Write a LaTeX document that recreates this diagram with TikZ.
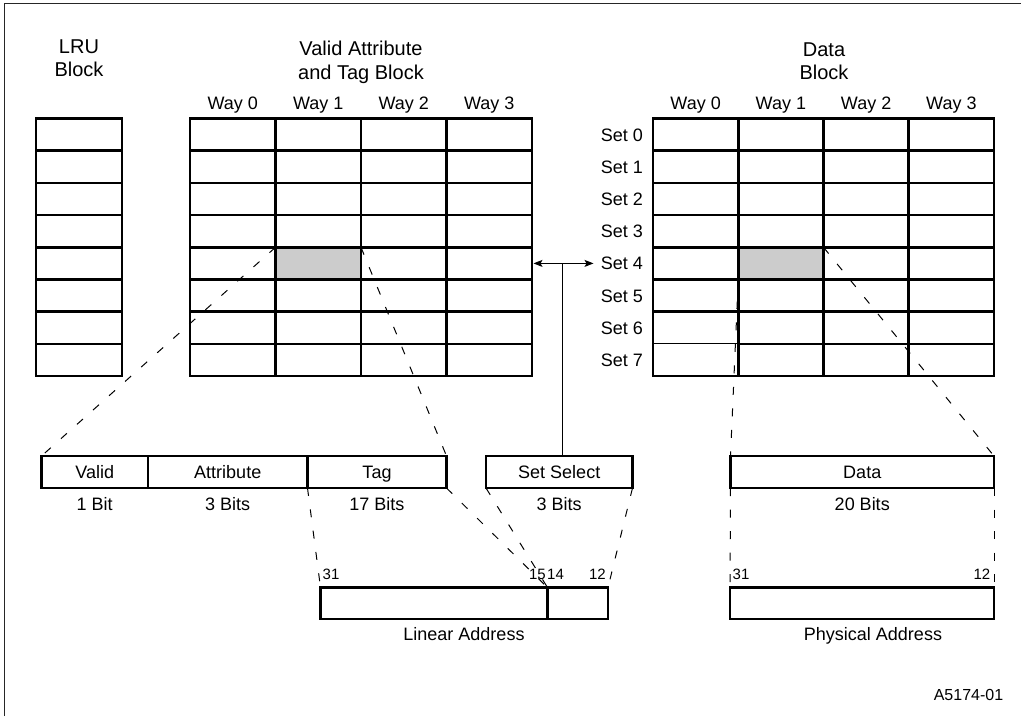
\documentclass[tikz,border=0pt]{standalone}
\usepackage{fontspec}
\setmainfont{Liberation Sans}
\usetikzlibrary{arrows.meta}
\begin{document}
\begin{tikzpicture}[x=1pt,y=-1pt,
  grid/.style={line width=2.7pt, line cap=rect},
  thinline/.style={line width=1pt},
  dsh/.style={line width=1pt, dash pattern=on 8pt off 13.5pt},
  cell/.style={draw=none, fill=black!20, inner sep=0pt, outer sep=0pt, minimum height=32.2pt},
  box/.style={draw, line width=2.7pt, inner sep=0pt, outer sep=0pt, minimum height=32pt,
    font=\fontsize{18}{22}\selectfont, text height=12.9pt, text depth=0pt},
  lbl/.style={inner sep=0pt, font=\fontsize{18}{22}\selectfont, text height=12.9pt, text depth=0pt},
  ttl/.style={inner sep=0pt, font=\fontsize{20}{24}\selectfont, text height=14.3pt, text depth=0pt},
  num/.style={inner sep=0pt, font=\fontsize{15}{18}\selectfont, text height=10.7pt, text depth=0pt},
  >={Stealth[length=9pt,width=7pt,inset=2pt]}
]
\useasboundingbox (0,0) rectangle (1021,716);
% frame
\draw[line width=1.3pt, black!85] (4.5,716) -- (4.5,3.5) -- (1021,3.5);

% titles
\node[ttl] (t1a) at (79,46.3) {LRU};
\node[ttl] (t1b) at (79,69.5) {Block};
\node[ttl] (t2a) at (361,48.8) {Valid Attribute};
\node[ttl] (t2b) at (361,72) {and Tag Block};
\node[ttl] (t3a) at (824,49) {Data};
\node[ttl] (t3b) at (824,72) {Block};

% way labels
\node[lbl] (w0) at (232.75,103) {Way 0};
\node[lbl] (w1) at (318.25,103) {Way 1};
\node[lbl] (w2) at (403.75,103) {Way 2};
\node[lbl] (w3) at (489.25,103) {Way 3};
\node[lbl] (v0) at (695.6,103) {Way 0};
\node[lbl] (v1) at (780.9,103) {Way 1};
\node[lbl] (v2) at (866.1,103) {Way 2};
\node[lbl] (v3) at (951.4,103) {Way 3};

% set labels
\foreach \s/\yy in {0/134.6,1/166.8,2/199,3/231.2,4/263.4,5/295.6,6/327.8,7/360}
  \node[lbl, anchor=east] (set\s) at (643,\yy) {Set \s};

% shaded cells
\node[cell, minimum width=85.5pt] (tagcell) at (318.25,263.4) {};
\node[cell, minimum width=85.25pt] (datacell) at (780.875,263.4) {};

% LRU block
\draw[grid] (36,118.5) rectangle (122,376.1);
\foreach \yy in {150.7,182.9,215.1,247.3,279.5,311.7,343.9}
  \draw[grid] (36,\yy) -- (122,\yy);

% tag block
\draw[grid] (190,118.5) rectangle (532,376.1);
\foreach \yy in {150.7,182.9,215.1,247.3,279.5,311.7,343.9}
  \draw[grid] (190,\yy) -- (532,\yy);
\foreach \xx in {275.5,361,446.5}
  \draw[grid] (\xx,118.5) -- (\xx,376.1);

% data block
\draw[grid] (653,118.5) rectangle (994,376.1);
\foreach \yy in {150.7,182.9,215.1,247.3,279.5,311.7}
  \draw[grid] (653,\yy) -- (994,\yy);
\draw[thinline] (653,343.9) -- (738.25,343.9);
\draw[grid] (738.25,343.9) -- (994,343.9);
\foreach \xx in {738.25,823.5,908.75}
  \draw[grid] (\xx,118.5) -- (\xx,376.1);

% field boxes
\node[box, minimum width=106.5pt] (valid) at (94.75,472) {Valid};
\node[box, minimum width=159.5pt] (attr) at (227.75,472) {Attribute};
\node[box, minimum width=139pt] (tag) at (377,472) {Tag};
\node[box, minimum width=146.5pt] (ssel) at (559.25,472) {Set Select};
\node[box, minimum width=263.5pt] (data) at (862.25,472) {Data};

\node[lbl] (b1) at (94.75,504) {1 Bit};
\node[lbl] (b2) at (227.75,504) {3 Bits};
\node[lbl] (b3) at (377,504) {17 Bits};
\node[lbl] (b4) at (559.25,504) {3 Bits};
\node[lbl] (b5) at (862.25,504) {20 Bits};

% address boxes
\node[box, minimum width=227pt, minimum height=31.5pt] (lin) at (434,603.25) {};
\node[box, minimum width=60.5pt, minimum height=31.5pt] (linlo) at (577.75,603.25) {};
\node[box, minimum width=264pt, minimum height=31.5pt] (phys) at (862,603.25) {};

\node[lbl] (linl) at (464,634) {Linear Address};
\node[lbl] (physl) at (873,634) {Physical Address};

\node[num, anchor=west] (n31a) at (322.5,574) {31};
\node[num, anchor=east] (n15) at (546,574) {15};
\node[num, anchor=west] (n14) at (547,574) {14};
\node[num, anchor=east] (n12a) at (606,574) {12};
\node[num, anchor=west] (n31b) at (732.5,574) {31};
\node[num, anchor=east] (n12b) at (990.5,574) {12};

\node[lbl, font=\fontsize{16}{19}\selectfont, text height=11.5pt] (fig) at (968.5,694.5) {A5174-01};

% dashed connectors
\draw[dsh] (tagcell.north west) -- (valid.north west);
\draw[dsh] (tagcell.north east) -- (tag.north east);
\draw[dsh] (tag.south west) -- (lin.north west);
\draw[dsh] (tag.south east) -- (lin.north east);
\draw[dsh] (ssel.south west) -- (lin.north east);
\draw[dsh] (ssel.south east) -- (linlo.north east);
\draw[dsh] (datacell.south west) -- (data.north west);
\draw[dsh] (datacell.north east) -- (data.north east);
\draw[dsh] (data.south west) -- (phys.north west);
\draw[dsh] (data.south east) -- (phys.north east);

% set select arrow
\coordinate (arrL) at (533.5,263.4);
\coordinate (arrR) at (593.5,263.4);
\coordinate (ssTop) at (562.7,456);
\draw[thinline, <->] (arrL) -- (arrR);
\draw[thinline] (ssTop) -- (ssTop |- arrL);
\end{tikzpicture}
\end{document}
